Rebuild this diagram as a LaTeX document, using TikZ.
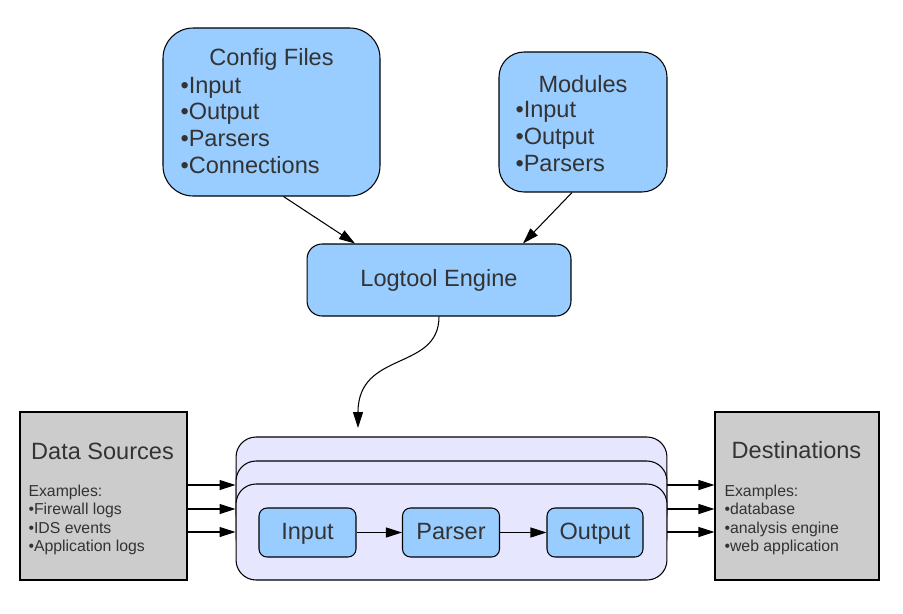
\documentclass[tikz,border=0pt]{standalone}
\usepackage{fontspec}
\setmainfont{Liberation Sans}
\usetikzlibrary{arrows.meta}
\definecolor{boxblue}{HTML}{99CCFF}
\definecolor{stackfill}{HTML}{E6E6FF}
\definecolor{boxgray}{HTML}{CCCCCC}
\definecolor{txtgray}{HTML}{333333}
\newcommand{\bigfont}{\fontsize{13.4}{15.1}\selectfont}
\newcommand{\smallfont}{\fontsize{9}{10.25}\selectfont}

\begin{document}
\begin{tikzpicture}[x=0.02cm, y=-0.02cm, line width=0.6pt,
   >={Triangle[length=3.2mm,width=2mm]}, text=txtgray, font=\bigfont,
   bluebox/.style={draw, fill=boxblue, inner sep=0pt},
   graybox/.style={draw, fill=boxgray, inner sep=0pt, minimum height=3.36cm},
   stackbox/.style={draw, fill=stackfill, rounded corners=0.4cm, minimum width=8.62cm, minimum height=1.92cm},
   stagebox/.style={bluebox, rounded corners=0.16cm, minimum width=1.94cm, minimum height=0.98cm,
     text height=1em, text depth=0.18em},
   listtext/.style={anchor=base west, align=left, inner sep=0pt}]
\path[fill=white, use as bounding box] (0,0) rectangle (903,613);
% top: configuration and modules
\node[bluebox, rounded corners=0.6cm, minimum width=4.34cm, minimum height=3.36cm] (cfg) at (271.5,112) {};
\node[anchor=base, inner sep=0pt] (cfgT) at (271.5,65) {Config Files};
\node[listtext] (cfgL) at (180,173) {•Input\\•Output\\•Parsers\\•Connections};
\node[bluebox, rounded corners=0.5cm, minimum width=3.36cm, minimum height=2.8cm] (mod) at (583,122) {};
\node[anchor=base, inner sep=0pt] (modT) at (583,92) {Modules};
\node[listtext] (modL) at (515,171) {•Input\\•Output\\•Parsers};
\node[bluebox, rounded corners=0.3cm, minimum width=5.28cm, minimum height=1.44cm] (eng) at (439,280) {Logtool Engine};
\draw[->] ([xshift=0.24cm]cfg.south) -- ([xshift=-1.68cm]eng.north);
\draw[->] ([xshift=-0.22cm]mod.south) -- ([xshift=1.68cm]eng.north);
% stacked pipelines
\node[stackbox] (back) at (451.5,485) {};
\node[stackbox] (mid) at (451.5,509) {};
\node[stackbox] (front) at (451.5,532) {};
\node[stagebox] (inp) at (307.5,532.5) {Input};
\node[stagebox] (par) at (451,532.5) {Parser};
\node[stagebox, minimum width=1.92cm] (outp) at (595,532.5) {Output};
\draw[->] (inp) -- (par);
\draw[->] (par) -- (outp);
\coordinate (drop) at (358,428);
\draw[->] (eng.south) .. controls +(0,55) and (358,350) .. (drop);
% sources and destinations
\node[graybox, minimum width=3.34cm] (src) at (103.5,496) {};
\node[anchor=base, inner sep=0pt] (srcT) at (102.5,459) {Data Sources};
\node[listtext, font=\smallfont] (srcL) at (28,551) {Examples:\\•Firewall logs\\•IDS events\\•Application logs};
\node[graybox, minimum width=3.28cm] (dst) at (797,496) {};
\node[anchor=base, inner sep=0pt] (dstT) at (796.5,458) {Destinations};
\node[listtext, font=\smallfont] (dstL) at (724,551) {Examples:\\•database\\•analysis engine\\•web application};
\foreach \s in {back,mid,front} {
  \draw[->] (src.east |- \s.center) -- (\s.west);
  \draw[->] (\s.east) -- (dst.west |- \s.center);
}
\end{tikzpicture}
\end{document}
